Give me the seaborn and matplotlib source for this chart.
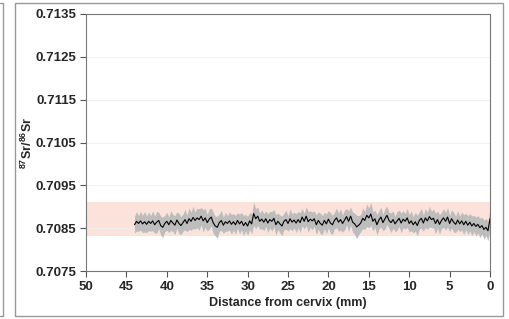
import numpy as np
import pandas as pd
import matplotlib
matplotlib.use('Agg')
import matplotlib.pyplot as plt
import seaborn as sns

# distance from cervix (mm), one sample every 0.25 mm, 44 -> 0
distance = np.arange(44.0, -0.01, -0.25)

# 87Sr/86Sr ratio
ratio = [
    0.70858, 0.70866, 0.70861, 0.70867, 0.70860, 0.70865, 0.70859, 0.70866,
    0.70861, 0.70867, 0.70858, 0.70864, 0.70868, 0.70856, 0.70852, 0.70861,
    0.70866, 0.70858, 0.70868, 0.70862, 0.70857, 0.70869, 0.70861, 0.70856,
    0.70863, 0.70870, 0.70861, 0.70872, 0.70866, 0.70875, 0.70868, 0.70874,
    0.70870, 0.70878, 0.70867, 0.70874, 0.70863, 0.70871, 0.70876, 0.70862,
    0.70855, 0.70852, 0.70863, 0.70868, 0.70857, 0.70865, 0.70861, 0.70867,
    0.70859, 0.70865, 0.70858, 0.70868, 0.70860, 0.70866, 0.70856, 0.70863,
    0.70855, 0.70867, 0.70860, 0.70884, 0.70872, 0.70878, 0.70866, 0.70871,
    0.70864, 0.70872, 0.70862, 0.70870, 0.70866, 0.70873, 0.70858, 0.70866,
    0.70860, 0.70855, 0.70866, 0.70870, 0.70861, 0.70872, 0.70864, 0.70869,
    0.70862, 0.70870, 0.70863, 0.70876, 0.70866, 0.70878, 0.70865, 0.70871,
    0.70867, 0.70872, 0.70858, 0.70868, 0.70861, 0.70857, 0.70868, 0.70860,
    0.70871, 0.70862, 0.70858, 0.70868, 0.70874, 0.70864, 0.70870, 0.70861,
    0.70869, 0.70877, 0.70866, 0.70878, 0.70864, 0.70860, 0.70853, 0.70857,
    0.70862, 0.70873, 0.70868, 0.70880, 0.70874, 0.70883, 0.70866, 0.70872,
    0.70858, 0.70869, 0.70876, 0.70863, 0.70872, 0.70880, 0.70868, 0.70863,
    0.70870, 0.70860, 0.70867, 0.70873, 0.70862, 0.70871, 0.70866, 0.70874,
    0.70861, 0.70867, 0.70858, 0.70865, 0.70856, 0.70868, 0.70873, 0.70862,
    0.70874, 0.70867, 0.70877, 0.70870, 0.70873, 0.70861, 0.70870, 0.70859,
    0.70868, 0.70874, 0.70866, 0.70876, 0.70861, 0.70872, 0.70864, 0.70859,
    0.70869, 0.70860, 0.70867, 0.70858, 0.70866, 0.70857, 0.70864, 0.70855,
    0.70861, 0.70854, 0.70859, 0.70851, 0.70856, 0.70847, 0.70852, 0.70844,
    0.70872,
]

# half-width of the grey uncertainty envelope
err = [
    0.00019, 0.00023, 0.00018, 0.00022, 0.00020, 0.00024, 0.00019, 0.00022,
    0.00018, 0.00023, 0.00020, 0.00025, 0.00019, 0.00022, 0.00024, 0.00019,
    0.00021, 0.00018, 0.00023, 0.00020, 0.00022, 0.00019, 0.00024, 0.00021,
    0.00020, 0.00024, 0.00019, 0.00025, 0.00021, 0.00026, 0.00020, 0.00023,
    0.00025, 0.00020, 0.00026, 0.00022, 0.00019, 0.00024, 0.00021, 0.00025,
    0.00023, 0.00026, 0.00020, 0.00023, 0.00019, 0.00022, 0.00018, 0.00021,
    0.00023, 0.00019, 0.00022, 0.00018, 0.00023, 0.00020, 0.00024, 0.00019,
    0.00022, 0.00020, 0.00023, 0.00027, 0.00024, 0.00021, 0.00019, 0.00022,
    0.00020, 0.00018, 0.00022, 0.00019, 0.00023, 0.00020, 0.00024, 0.00019,
    0.00021, 0.00023, 0.00019, 0.00022, 0.00018, 0.00023, 0.00020, 0.00018,
    0.00022, 0.00019, 0.00023, 0.00020, 0.00018, 0.00022, 0.00024, 0.00019,
    0.00021, 0.00018, 0.00023, 0.00020, 0.00024, 0.00022, 0.00019, 0.00023,
    0.00020, 0.00024, 0.00022, 0.00019, 0.00023, 0.00021, 0.00025, 0.00020,
    0.00023, 0.00019, 0.00024, 0.00021, 0.00023, 0.00025, 0.00027, 0.00022,
    0.00020, 0.00024, 0.00021, 0.00026, 0.00023, 0.00027, 0.00022, 0.00020,
    0.00024, 0.00021, 0.00023, 0.00019, 0.00024, 0.00021, 0.00019, 0.00023,
    0.00020, 0.00018, 0.00022, 0.00019, 0.00023, 0.00020, 0.00018, 0.00022,
    0.00020, 0.00023, 0.00019, 0.00022, 0.00024, 0.00020, 0.00023, 0.00019,
    0.00022, 0.00020, 0.00024, 0.00019, 0.00022, 0.00024, 0.00020, 0.00023,
    0.00019, 0.00022, 0.00020, 0.00023, 0.00019, 0.00021, 0.00023, 0.00019,
    0.00022, 0.00018, 0.00021, 0.00023, 0.00019, 0.00022, 0.00020, 0.00023,
    0.00019, 0.00022, 0.00020, 0.00023, 0.00019, 0.00022, 0.00020, 0.00023,
    0.00024,
]

# local range (pink band)
band_low, band_high = 0.70832, 0.70911

y_ticks = [0.7075, 0.7085, 0.7095, 0.7105, 0.7115, 0.7125, 0.7135]
x_ticks = [50, 45, 40, 35, 30, 25, 20, 15, 10, 5, 0]

df = pd.DataFrame({'distance': distance, 'ratio': ratio, 'err': err})

sns.set_style('white')
plt.rcParams['font.family'] = ['Liberation Sans', 'DejaVu Sans']
plt.rcParams['mathtext.fontset'] = 'custom'
plt.rcParams['mathtext.rm'] = 'Liberation Sans:bold'
plt.rcParams['mathtext.bf'] = 'Liberation Sans:bold'

fig = plt.figure(figsize=(5.10, 3.19), dpi=100)
ax = fig.add_axes([86 / 510, 48 / 319, 404 / 510, 257 / 319])

ax.axhspan(band_low, band_high, color='#fbe2da', lw=0, zorder=0)
for t in y_ticks[1:-1]:
    ax.axhline(t, color='#efefef', lw=0.6, zorder=0.5)

ax.fill_between(df['distance'], df['ratio'] - df['err'], df['ratio'] + df['err'],
                color='#bdbdbd', lw=0, zorder=1)
sns.lineplot(data=df, x='distance', y='ratio', color='black', lw=0.8, ax=ax, zorder=2)

ax.set_xlim(50, 0)
ax.set_ylim(0.7075, 0.7135)
ax.set_xticks(x_ticks)
ax.set_yticks(y_ticks)
ax.set_xticklabels([str(v) for v in x_ticks], fontsize=9.5, fontweight='bold')
ax.set_yticklabels(['%.4f' % v for v in y_ticks], fontsize=9.5, fontweight='bold')
ax.tick_params(axis='both', direction='out', length=4, width=0.8, color='#555555', pad=3,
               left=True, bottom=True)
for s in ax.spines.values():
    s.set_color('#777777')
    s.set_linewidth(0.8)

ax.set_xlabel('Distance from cervix (mm)', fontsize=9, fontweight='bold', labelpad=3)
ax.set_ylabel(r'$^{87}$Sr/$^{86}$Sr', fontsize=9, fontweight='bold', labelpad=0)

# panel frame
fig.patches.append(plt.Rectangle((15 / 510, 3 / 319), 488 / 510, 313 / 319,
                                 transform=fig.transFigure, fill=False,
                                 edgecolor='#999999', lw=1.0))
fig.add_artist(plt.Line2D([0, 3 / 510, 3 / 510, 0], [3 / 319, 3 / 319, 316 / 319, 316 / 319],
                          transform=fig.transFigure, color='#999999', lw=1.0))

fig.savefig('out.png', dpi=100)
